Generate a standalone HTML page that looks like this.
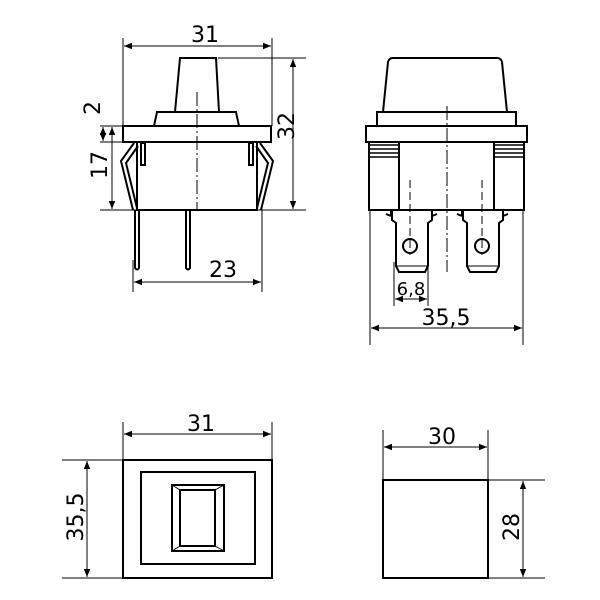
<!DOCTYPE html>
<html><head><meta charset="utf-8"><style>html,body{margin:0;padding:0;background:#fff}svg{display:block}</style></head>
<body>
<svg width="600" height="600" viewBox="0 0 600 600" xmlns="http://www.w3.org/2000/svg" font-family="'DejaVu Sans','Liberation Sans',sans-serif" font-size="22">
<defs>
<marker id="a" viewBox="0 0 10 10" refX="10" refY="5" markerWidth="8" markerHeight="8" orient="auto-start-reverse" markerUnits="userSpaceOnUse"><path d="M0,1 L10,5 L0,9 z" fill="#000"/></marker>
</defs>
<g fill="none" stroke="#000">
<g stroke-width="1">
<line x1="123" y1="38" x2="123" y2="126"/><line x1="272" y1="38" x2="272" y2="126"/>
<line x1="124" y1="46" x2="271" y2="46" marker-start="url(#a)" marker-end="url(#a)"/>
<line x1="218" y1="58" x2="306" y2="58"/><line x1="100" y1="210" x2="306" y2="210"/>
<line x1="293" y1="59" x2="293" y2="209" marker-start="url(#a)" marker-end="url(#a)"/>
<line x1="112" y1="127" x2="112" y2="209" marker-start="url(#a)" marker-end="url(#a)"/>
<line x1="100" y1="126" x2="123" y2="126"/><line x1="100" y1="142" x2="123" y2="142"/>
<line x1="103" y1="127" x2="103" y2="141" marker-start="url(#a)" marker-end="url(#a)"/>
<line x1="133" y1="260" x2="133" y2="292"/><line x1="262" y1="210" x2="262" y2="292"/>
<line x1="134" y1="282" x2="261" y2="282" marker-start="url(#a)" marker-end="url(#a)"/>
<line x1="197" y1="92" x2="197" y2="210" stroke-dasharray="14,3,2,3"/>
</g>
<g stroke-width="2">
<path d="M180,58 L216,58 L219,112 L175,112 Z"/>
<path d="M157,112 L236,112 L239,126 L154,126 Z"/>
<rect x="123" y="126" width="148" height="16"/>
<rect x="137" y="142" width="120" height="68"/>
<path d="M134,143 L121,161 L133,210"/>
<path d="M138,146 L126,163 L137,208"/>
<path d="M260,143 L273,161 L261,210"/>
<path d="M256,146 L268,163 L257,208"/>
<rect x="141" y="143" width="4" height="22"/>
<rect x="249" y="143" width="4" height="22"/>
<path d="M135,210 L135,268 Q137,271 139,268 L139,210"/>
<path d="M186,210 L186,268 Q188,271 190,268 L190,210"/>
</g>
<g stroke-width="1">
<line x1="447" y1="106" x2="447" y2="272" stroke-dasharray="14,3,2,3"/>
<line x1="410" y1="180" x2="410" y2="255" stroke-dasharray="8,4"/>
<line x1="482" y1="180" x2="482" y2="255" stroke-dasharray="8,4"/>
<line x1="394" y1="262" x2="394" y2="306"/><line x1="428" y1="262" x2="428" y2="306"/>
<line x1="395" y1="299" x2="427" y2="299" marker-start="url(#a)" marker-end="url(#a)"/>
<line x1="370" y1="210" x2="370" y2="345"/><line x1="523" y1="210" x2="523" y2="345"/>
<line x1="371" y1="328" x2="522" y2="328" marker-start="url(#a)" marker-end="url(#a)"/>
</g>
<g stroke-width="2">
<path d="M383,112 L388,62 Q389,58 393,58 L497,58 Q501,58 502,62 L507,112 Z"/>
<rect x="377" y="112" width="139" height="14"/>
<rect x="366" y="126" width="161" height="16"/>
<rect x="369" y="142" width="155" height="68"/>
<line x1="399" y1="142" x2="399" y2="210"/><line x1="494" y1="142" x2="494" y2="210"/>
<path d="M391,210 L391,215 M386,214 L391,216 M432,210 L432,215 M437,214 L432,216"/>
<path d="M462,210 L462,215 M457,214 L462,216 M503,210 L503,215 M508,214 L503,216"/>
<path d="M392,210 L392,220 L396,223 L396,266 L399,272 L425,272 L428,266 L428,223 L432,220 L432,210"/>
<path d="M463,210 L463,220 L467,223 L467,266 L470,272 L496,272 L499,266 L499,223 L503,220 L503,210"/>
<circle cx="410" cy="246" r="7"/><circle cx="482" cy="246" r="7"/>
</g>
<g stroke-width="1.5">
<line x1="370" y1="145" x2="399" y2="145"/><line x1="370" y1="149" x2="399" y2="149"/><line x1="370" y1="153" x2="399" y2="153"/><line x1="370" y1="157" x2="399" y2="157"/>
<line x1="494" y1="145" x2="523" y2="145"/><line x1="494" y1="149" x2="523" y2="149"/><line x1="494" y1="153" x2="523" y2="153"/><line x1="494" y1="157" x2="523" y2="157"/>
</g>
<g stroke-width="1">
<line x1="396" y1="266" x2="428" y2="266"/><line x1="467" y1="266" x2="499" y2="266"/>
</g>
<g stroke-width="1">
<line x1="123" y1="422" x2="123" y2="460"/><line x1="272" y1="422" x2="272" y2="460"/>
<line x1="124" y1="434" x2="271" y2="434" marker-start="url(#a)" marker-end="url(#a)"/>
<line x1="62" y1="460" x2="123" y2="460"/><line x1="62" y1="578" x2="123" y2="578"/>
<line x1="87" y1="461" x2="87" y2="577" marker-start="url(#a)" marker-end="url(#a)"/>
<path d="M172,485 L180,490 M224,485 L215,490 M172,551 L180,546 M224,551 L215,546"/>
</g>
<g stroke-width="2">
<rect x="123" y="460" width="149" height="118"/>
<rect x="141" y="472" width="114" height="92"/>
<rect x="172" y="485" width="52" height="66"/>
<rect x="180" y="490" width="35" height="56"/>
</g>
<g stroke-width="1">
<line x1="383" y1="430" x2="383" y2="480"/><line x1="488" y1="430" x2="488" y2="480"/>
<line x1="384" y1="447" x2="487" y2="447" marker-start="url(#a)" marker-end="url(#a)"/>
<line x1="488" y1="480" x2="545" y2="480"/><line x1="488" y1="578" x2="545" y2="578"/>
<line x1="523" y1="481" x2="523" y2="577" marker-start="url(#a)" marker-end="url(#a)"/>
</g>
<rect x="383" y="480" width="105" height="98" stroke-width="2"/>
</g>
<g fill="#000" text-anchor="middle">
<text x="205" y="42">31</text>
<text x="223" y="277">23</text>
<text transform="translate(294,126) rotate(-90)">32</text>
<text transform="translate(107,165) rotate(-90)">17</text>
<text transform="translate(100,108) rotate(-90)">2</text>
<text x="411" y="295" font-size="18">6,8</text>
<text x="446" y="325">35,5</text>
<text x="201" y="431">31</text>
<text transform="translate(83,517) rotate(-90)">35,5</text>
<text x="442" y="444">30</text>
<text transform="translate(519,527) rotate(-90)">28</text>
</g>
</svg>
</body></html>
